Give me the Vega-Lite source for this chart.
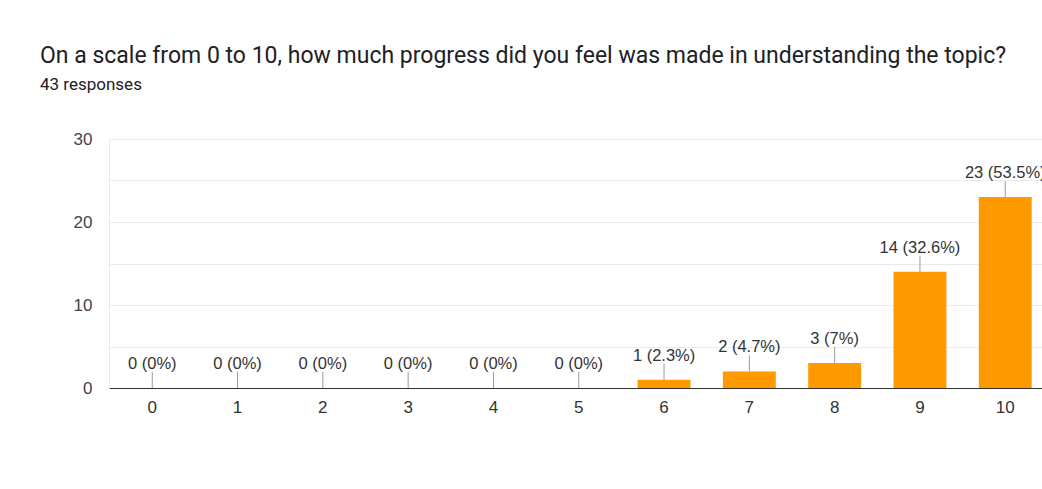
{
  "$schema": "https://vega.github.io/schema/vega-lite/v6.json",
  "autosize": {"type": "none"},
  "width": 933,
  "height": 249,
  "padding": {"left": 109, "top": 139, "right": 0, "bottom": 101},
  "background": "white",
  "title": {
    "text": "On a scale from 0 to 10, how much progress did you feel was made in understanding the topic?",
    "subtitle": "43 responses",
    "anchor": "start",
    "frame": "group",
    "dx": -69,
    "offset": 37,
    "font": "Roboto",
    "fontSize": 23,
    "fontWeight": "normal",
    "color": "#202124",
    "subtitleFont": "Roboto",
    "subtitleFontSize": 17,
    "subtitleColor": "#202124",
    "subtitlePadding": 9
  },
  "data": {
    "values": [
      {"score": "0", "count": 0, "label": "0 (0%)"},
      {"score": "1", "count": 0, "label": "0 (0%)"},
      {"score": "2", "count": 0, "label": "0 (0%)"},
      {"score": "3", "count": 0, "label": "0 (0%)"},
      {"score": "4", "count": 0, "label": "0 (0%)"},
      {"score": "5", "count": 0, "label": "0 (0%)"},
      {"score": "6", "count": 1, "label": "1 (2.3%)"},
      {"score": "7", "count": 2, "label": "2 (4.7%)"},
      {"score": "8", "count": 3, "label": "3 (7%)"},
      {"score": "9", "count": 14, "label": "14 (32.6%)"},
      {"score": "10", "count": 23, "label": "23 (53.5%)"}
    ]
  },
  "encoding": {
    "x": {
      "field": "score",
      "type": "ordinal",
      "sort": null,
      "scale": {"paddingInner": 0.38, "paddingOuter": 0.159, "align": 0.62, "round": false},
      "axis": {
        "title": null,
        "labelAngle": 0,
        "labelFont": "Arial",
        "labelFontSize": 17,
        "labelColor": "#333333",
        "labelPadding": 11,
        "ticks": false,
        "domainColor": "#333333",
        "domainWidth": 1,
        "grid": false
      }
    },
    "y": {
      "field": "count",
      "type": "quantitative",
      "scale": {"domain": [0, 30], "nice": false},
      "axis": {
        "title": null,
        "values": [0, 5, 10, 15, 20, 25, 30],
        "labelExpr": "datum.value % 10 === 0 ? datum.label : ''",
        "labelFont": "Arial",
        "labelFontSize": 17,
        "labelColor": "#444444",
        "labelPadding": 17,
        "ticks": false,
        "domain": true,
        "domainColor": "#ebebeb",
        "gridColor": "#ebebeb",
        "gridWidth": 1
      }
    }
  },
  "layer": [
    {"mark": {"type": "bar", "color": "#ff9900"}},
    {
      "mark": {"type": "rule", "color": "#999999", "strokeWidth": 1, "y2Offset": -16},
      "encoding": {"y2": {"field": "count"}}
    },
    {
      "mark": {"type": "text", "font": "Arial", "fontSize": 16.5, "color": "#333333", "baseline": "alphabetic", "dy": -19},
      "encoding": {"text": {"field": "label"}}
    }
  ],
  "config": {
    "view": {"stroke": null}
  }
}
